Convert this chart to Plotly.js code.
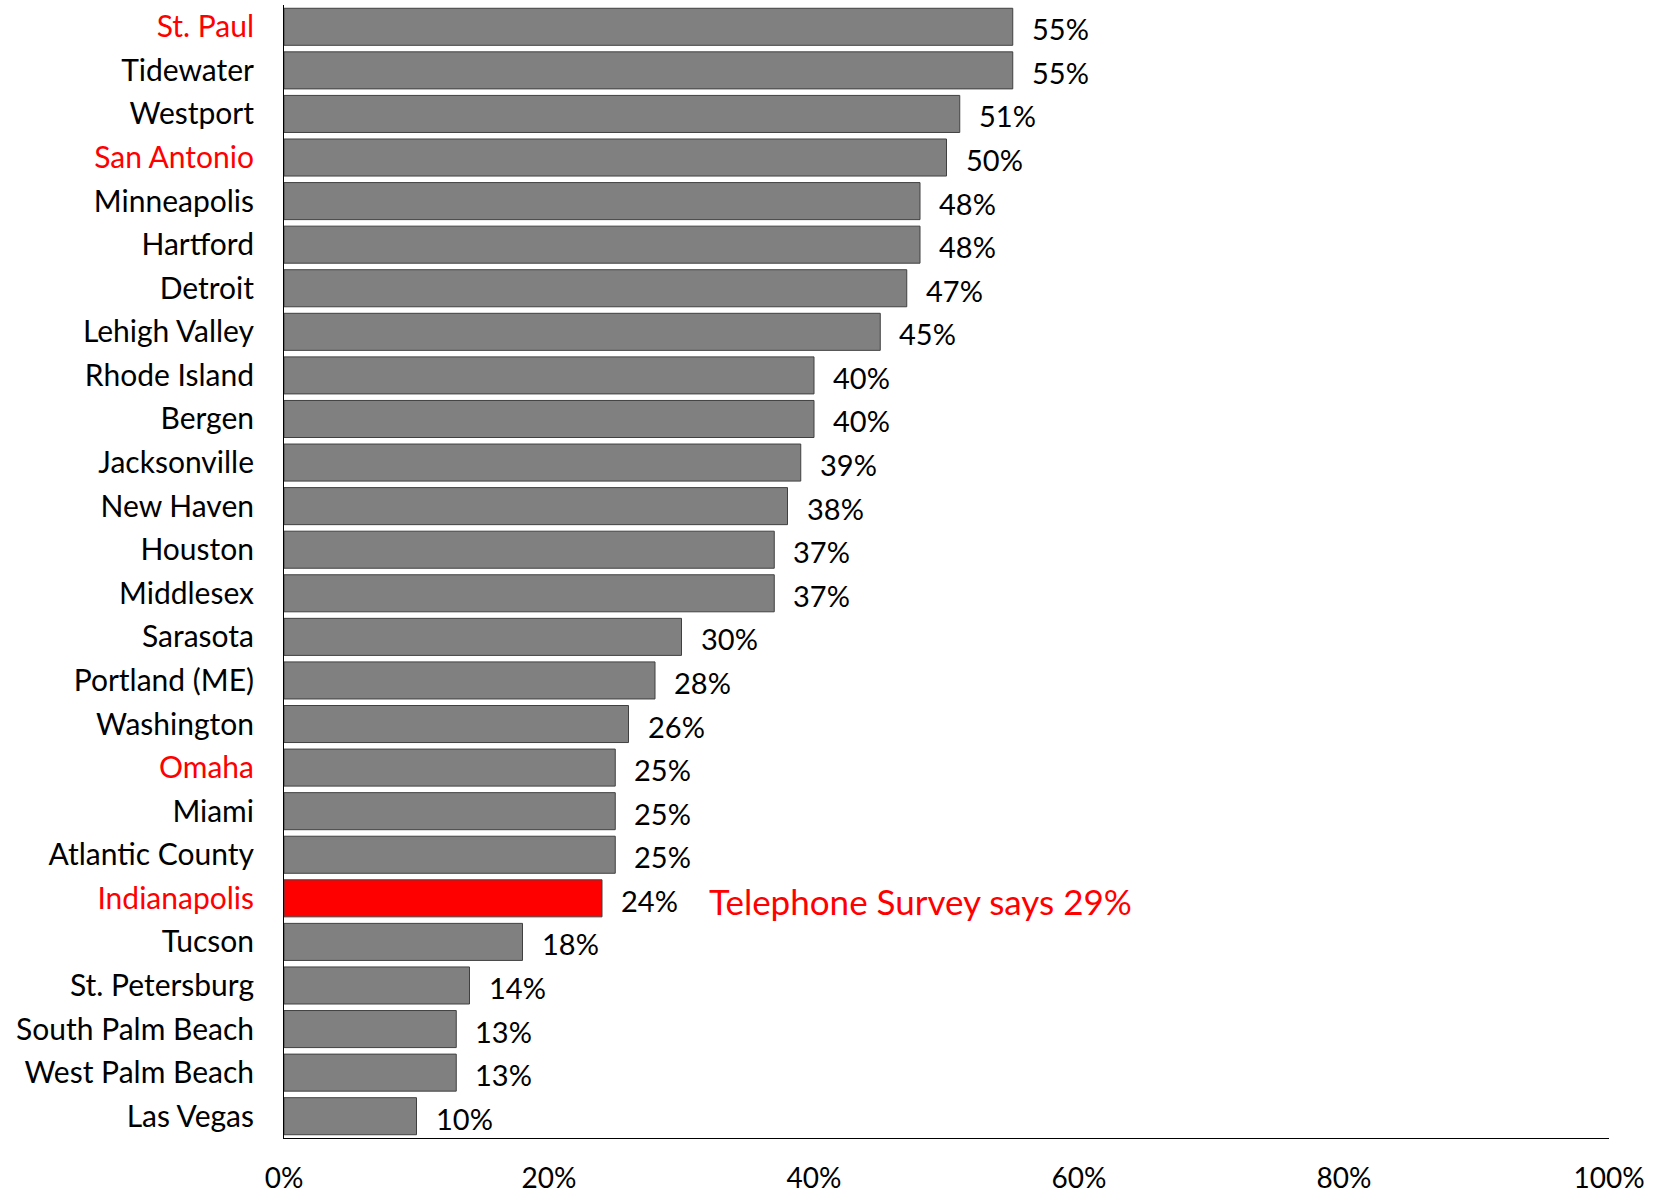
<!DOCTYPE html>
<html>
<head>
<meta charset="utf-8">
<script src="https://cdn.plot.ly/plotly-3.0.1.min.js"></script>
<style>html,body{margin:0;padding:0;background:#fff;}#chart{width:1659px;height:1194px;}</style>
</head>
<body>
<div id="chart"></div>
<script>
const categories = ["St. Paul","Tidewater","Westport","San Antonio","Minneapolis","Hartford","Detroit","Lehigh Valley","Rhode Island","Bergen","Jacksonville","New Haven","Houston","Middlesex","Sarasota","Portland (ME)","Washington","Omaha","Miami","Atlantic County","Indianapolis","Tucson","St. Petersburg","South Palm Beach","West Palm Beach","Las Vegas"];
const values = [55,55,51,50,48,48,47,45,40,40,39,38,37,37,30,28,26,25,25,25,24,18,14,13,13,10];
const highlighted = ["St. Paul","San Antonio","Omaha","Indianapolis"];
const focusCity = "Indianapolis";
const noteText = "Telephone Survey says 29%";
const noteX = 31.9;
const xTicks = [0,20,40,60,80,100];

const barColors = categories.map(c => c === focusCity ? "#FF0000" : "#808080");
const tickText = categories.map(c => highlighted.includes(c) ? '<span style="color:#FF0000">' + c + '</span>' : c);

const font = "Lato, 'Open Sans', sans-serif";

const trace = {
  type: "bar",
  orientation: "h",
  y: categories,
  x: values,
  marker: {color: barColors, line: {color: "#404040", width: 1}},
  hoverinfo: "x+y"
};

const annotations = categories.map((c, i) => ({
  x: values[i], y: c, xref: "x", yref: "y",
  text: values[i] + "%", showarrow: false,
  xanchor: "left", yanchor: "middle", xshift: 17, yshift: -2,
  font: {family: font, size: 29, color: "#000"}
}));
annotations.push({
  x: noteX, y: focusCity, xref: "x", yref: "y",
  text: noteText, showarrow: false, xanchor: "left", yanchor: "middle", yshift: -3,
  font: {family: font, size: 35, color: "#FF0000"}
});

const layout = {
  width: 1659, height: 1194,
  margin: {l: 284, r: 50, t: 5, b: 56, pad: 0},
  paper_bgcolor: "#fff", plot_bgcolor: "#fff",
  bargap: 0.15,
  showlegend: false,
  xaxis: {
    range: [0, 100], tickvals: xTicks, ticktext: xTicks.map(v => v + "%"),
    showgrid: false, zeroline: false, showline: true, linecolor: "#000", linewidth: 1,
    ticks: "", ticklabelstandoff: 15,
    tickfont: {family: font, size: 28, color: "#000"}, fixedrange: true
  },
  yaxis: {
    type: "category", categoryorder: "array", categoryarray: categories,
    tickvals: categories, ticktext: tickText,
    range: [25.5, -0.5],
    showgrid: false, zeroline: false, showline: true, linecolor: "#000", linewidth: 1,
    ticks: "", ticklabelstandoff: 23,
    tickfont: {family: font, size: 30, color: "#000"}, fixedrange: true
  },
  annotations: annotations
};

Plotly.newPlot("chart", [trace], layout, {displayModeBar: false, staticPlot: true});
</script>
</body>
</html>
